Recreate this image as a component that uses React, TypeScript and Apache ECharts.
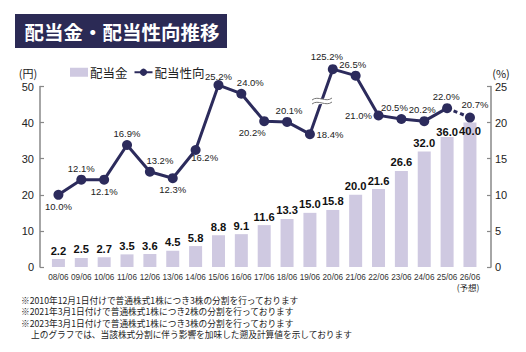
import React, { useEffect, useRef } from "react";
import * as echarts from "echarts";

const categories = ["08/06", "09/06", "10/06", "11/06", "12/06", "13/06", "14/06", "15/06", "16/06", "17/06", "18/06", "19/06", "20/06", "21/06", "22/06", "23/06", "24/06", "25/06", "26/06"];
const dividends = [2.2, 2.5, 2.7, 3.5, 3.6, 4.5, 5.8, 8.8, 9.1, 11.6, 13.3, 15.0, 15.8, 20.0, 21.6, 26.6, 32.0, 36.0, 40.0];
const payoutRatio = [10.0, 12.1, 12.1, 16.9, 13.2, 12.3, 16.2, 25.2, 24.0, 20.2, 20.1, 18.4, 125.2, 26.5, 21.0, 20.5, 20.2, 22.0, 20.7];
const breakIndex = 12; // off-scale value drawn above the axis break
const breakPlotValue = 27.4;
const forecastIndex = 18;
const leftAxisMax = 50;
const leftAxisInterval = 10;
const rightAxisMax = 25;
const rightAxisInterval = 5;
const footnotes = [
  "※2010年12月1日付けで普通株式1株につき3株の分割を行っております",
  "※2021年3月1日付けで普通株式1株につき2株の分割を行っております",
  "※2023年3月1日付けで普通株式1株につき3株の分割を行っております",
  "上のグラフでは、当該株式分割に伴う影響を加味した遡及計算値を示しております",
];

// label placement for each payout ratio point: [position, dx, dy]
const ratioLabelLayout: [string, number, number][] = [
  ["bottom", 0, 0], ["top", 0, 0], ["bottom", 0, 0], ["top", 0, 0], ["top", 10, 0],
  ["bottom", 0, 0], ["bottom", 9, -4], ["top", 0, 3], ["top", 9, 0], ["bottom", -12, 0],
  ["top", 2, 0], ["right", 0, 0], ["top", -6, -1], ["top", -3, 0], ["left", 0, 0],
  ["top", -7, 0], ["top", -2, 0], ["top", -1, 0], ["top", 5, -2],
];
// bar label placement overrides (to keep clear of the line)
const barLabelOverrides: Record<number, any> = {
  17: { distance: 0 },
  18: { position: "insideTop", distance: 3 },
};

const NUM_FONT = '"Liberation Sans", Arial, sans-serif';
const JP_FONT = '"Noto Sans CJK JP", "Noto Sans", sans-serif';
const BAR_COLOR = "#cfc9e1";
const LINE_COLOR = "#2c2b5c";
const AXIS_COLOR = "#888888";
const TEXT_COLOR = "#222222";

export default function App() {
  const ref = useRef<HTMLDivElement>(null);

  useEffect(() => {
    if (!ref.current) return;
    const chart = echarts.init(ref.current, null, { renderer: "svg" });

    const ratioPlot = payoutRatio.map((v, i) => (i === breakIndex ? breakPlotValue : v));

    const makeRatioPoint = (i: number) => {
      const [pos, dx, dy] = ratioLabelLayout[i];
      return {
        value: ratioPlot[i],
        label: {
          show: true,
          position: pos,
          offset: [dx, dy],
          distance: 1.5,
          formatter: payoutRatio[i].toFixed(1) + "%",
          fontFamily: NUM_FONT,
          fontSize: 9.5,
          color: TEXT_COLOR,
        },
      };
    };

    const solidData = ratioPlot.map((_, i) => (i === forecastIndex ? null : makeRatioPoint(i)));
    const forecastData = ratioPlot.map((v, i) => {
      if (i === forecastIndex) return makeRatioPoint(i);
      if (i === forecastIndex - 1) return { value: v, symbolSize: 0, label: { show: false } };
      return null;
    });

    const barData = dividends.map((v, i) =>
      barLabelOverrides[i] ? { value: v, label: barLabelOverrides[i] } : v
    );

    const option: any = {
      animation: false,
      backgroundColor: "#ffffff",
      grid: { left: 47, right: 44.6, top: 86.5, bottom: 85, containLabel: false },
      legend: {
        left: 70,
        top: 66,
        padding: 0,
        itemWidth: 18,
        itemHeight: 9,
        itemGap: 6,
        textStyle: { fontFamily: JP_FONT, fontSize: 12.5, color: TEXT_COLOR, padding: [0, 0, 0, -3] },
        data: [
          { name: "配当金", icon: "rect" },
          { name: "配当性向" },
        ],
      },
      xAxis: {
        type: "category",
        data: categories,
        axisLine: { show: false },
        axisTick: { show: false },
        axisLabel: { fontFamily: NUM_FONT, fontSize: 8.2, color: "#333", margin: 6, interval: 0 },
      },
      yAxis: [
        {
          type: "value",
          min: 0,
          max: leftAxisMax,
          interval: leftAxisInterval,
          offset: 7,
          splitLine: { show: false },
          axisLine: { show: true, lineStyle: { color: AXIS_COLOR, width: 1.5 } },
          axisTick: { show: true, inside: true, length: 4, lineStyle: { color: AXIS_COLOR, width: 1.2 } },
          axisLabel: { fontFamily: NUM_FONT, fontSize: 11, color: TEXT_COLOR, margin: 6 },
        },
        {
          type: "value",
          min: 0,
          max: rightAxisMax,
          interval: rightAxisInterval,
          offset: 9.6,
          position: "right",
          splitLine: { show: false },
          axisLine: { show: true, lineStyle: { color: AXIS_COLOR, width: 1.5 } },
          axisTick: { show: true, inside: true, length: 4, lineStyle: { color: AXIS_COLOR, width: 1.2 } },
          axisLabel: { fontFamily: NUM_FONT, fontSize: 11, color: TEXT_COLOR, margin: 4 },
        },
      ],
      series: [
        {
          name: "配当金",
          type: "bar",
          yAxisIndex: 0,
          data: barData,
          barWidth: 13,
          itemStyle: { color: BAR_COLOR },
          label: {
            show: true,
            position: "top",
            distance: 3,
            formatter: (p: any) => Number(p.value).toFixed(1),
            fontFamily: NUM_FONT,
            fontWeight: "bold",
            fontSize: 11.2,
            color: "#111",
          },
          z: 1,
        },
        {
          name: "配当性向",
          type: "line",
          yAxisIndex: 1,
          data: solidData,
          symbol: "circle",
          symbolSize: 10,
          clip: false,
          lineStyle: { color: LINE_COLOR, width: 3 },
          itemStyle: { color: LINE_COLOR },
          connectNulls: false,
          z: 3,
        },
        {
          name: "配当性向（予想）",
          type: "line",
          yAxisIndex: 1,
          data: forecastData,
          symbol: "circle",
          symbolSize: 10,
          clip: false,
          lineStyle: { color: LINE_COLOR, width: 3, type: [4, 3] },
          itemStyle: { color: LINE_COLOR },
          z: 3,
        },
      ],
      graphic: [
        {
          type: "rect",
          shape: { x: 15, y: 14, width: 212, height: 34 },
          style: { fill: "#2b2a55" },
          z: 10,
        },
        {
          type: "text",
          x: 122,
          y: 31,
          style: {
            text: "配当金・配当性向推移",
            fill: "#ffffff",
            fontFamily: JP_FONT,
            fontWeight: "bold",
            fontSize: 19.5,
            align: "center",
            verticalAlign: "middle",
          },
          z: 11,
        },
        {
          type: "text",
          x: 28,
          y: 73,
          style: { text: "(円)", fill: TEXT_COLOR, fontFamily: JP_FONT, fontSize: 11, align: "center", verticalAlign: "middle" },
        },
        {
          type: "text",
          x: 501,
          y: 73,
          style: { text: "(%)", fill: TEXT_COLOR, fontFamily: JP_FONT, fontSize: 11, align: "center", verticalAlign: "middle" },
        },
        {
          type: "text",
          x: 468,
          y: 287,
          style: { text: "(予想)", fill: TEXT_COLOR, fontFamily: JP_FONT, fontSize: 8.5, align: "center", verticalAlign: "middle" },
        },
        // axis break mark on the line between 19/06 and 20/06
        {
          type: "polygon",
          shape: { points: [[311, 100], [333, 98], [333, 103], [311, 105]] },
          style: { fill: "#ffffff" },
          z: 100,
        },
        {
          type: "bezierCurve",
          shape: { x1: 312, y1: 100, cpx1: 318, cpy1: 95, cpx2: 326, cpy2: 103, x2: 332, y2: 98 },
          style: { stroke: "#777777", lineWidth: 1, fill: null },
          z: 101,
        },
        {
          type: "bezierCurve",
          shape: { x1: 312, y1: 104, cpx1: 318, cpy1: 99, cpx2: 326, cpy2: 107, x2: 332, y2: 102 },
          style: { stroke: "#777777", lineWidth: 1, fill: null },
          z: 101,
        },
        ...footnotes.map((t, i) => ({
          type: "text",
          x: i === 3 ? 31 : 21,
          y: 300 + i * 11.6,
          style: { text: t, fill: TEXT_COLOR, fontFamily: JP_FONT, fontSize: 8.7, verticalAlign: "middle" },
        })),
      ],
    };

    chart.setOption(option);
    return () => chart.dispose();
  }, []);

  return <div ref={ref} style={{ width: 526, height: 352, position: "absolute", left: 0, top: 0 }} />;
}
